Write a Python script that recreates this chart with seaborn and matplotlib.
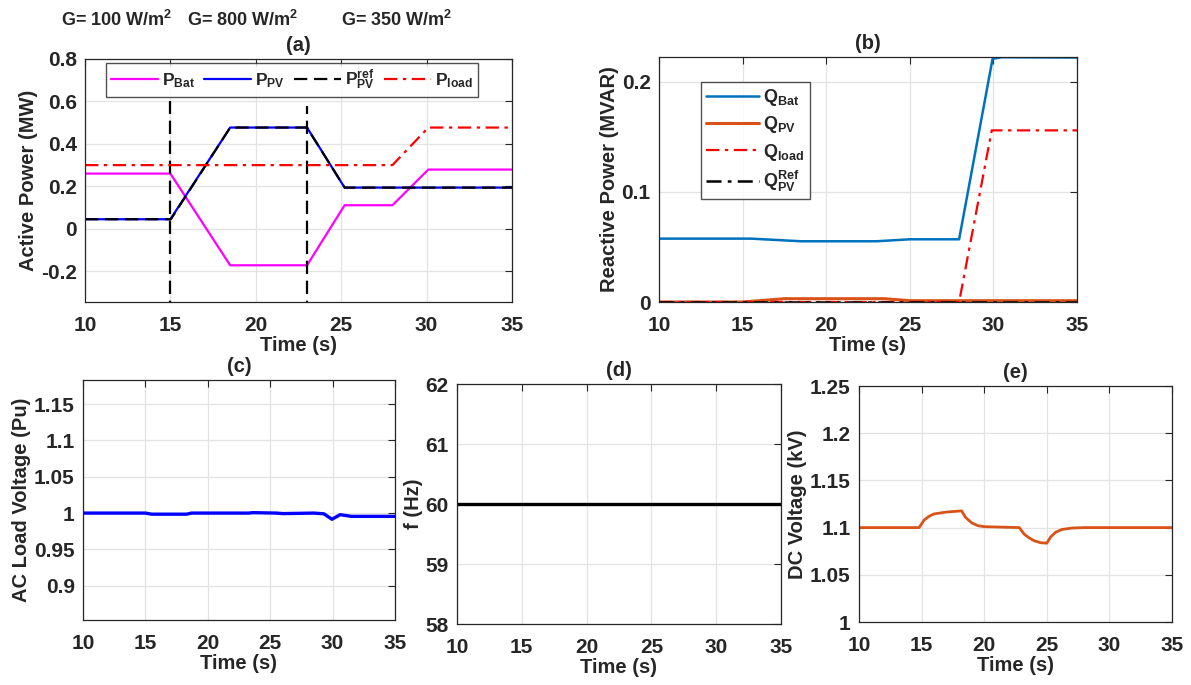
import numpy as np
import pandas as pd
import seaborn as sns
import matplotlib
matplotlib.use('Agg')
import matplotlib.pyplot as plt

# ---- data ----
# (a) active power
t_a = [10, 15, 18.5, 23, 25.2, 28, 30.1, 35]
p_bat = [0.26, 0.26, -0.172, -0.172, 0.111, 0.111, 0.279, 0.279]
p_pv = [0.045, 0.045, 0.477, 0.477, 0.194, 0.194, 0.194, 0.194]
p_load = [0.30, 0.30, 0.30, 0.30, 0.30, 0.30, 0.477, 0.477]
t_ref = [10, 15, 15.05, 18.5, 23, 23.05, 25.2, 35]
p_ref = [0.045, 0.045, 0.048, 0.477, 0.477, 0.47, 0.194, 0.194]
ref_steps = [15, 23]
ref_spike_top = [0.60, 0.58]
ref_spike_bottom = [-0.4, -0.4]

# (b) reactive power
t_b = [10, 15.5, 18.5, 23, 25, 27.95, 29.95, 30.5, 35]
q_bat = [0.0576, 0.0576, 0.0552, 0.0552, 0.057, 0.057, 0.221, 0.2225, 0.2222]
t_qpv = [10, 15, 17.5, 23.5, 25, 35]
q_pv = [0.0, 0.0, 0.003, 0.003, 0.0012, 0.0012]
t_qload = [10, 27.95, 29.9, 35]
q_load = [0.0, 0.0, 0.156, 0.156]
t_qref = [10, 35]
q_ref = [0.0, 0.0]

# (c) AC load voltage
t_c = [10, 15, 15.5, 18.3, 18.7, 23.3, 23.6, 25.5, 26, 28.5, 29.3, 29.95, 30.6, 31.5, 35]
v_ac = [1.0, 1.0, 0.9985, 0.9985, 1.0, 1.0, 1.0006, 1.0, 0.9993, 1.0, 0.999, 0.9915, 0.9978, 0.9955, 0.9955]

# (d) frequency
t_d = [10, 35]
freq = [60.0, 60.0]

# (e) DC voltage
t_e = [10, 14.8, 15.2, 15.6, 16, 17, 18.2, 18.5, 19, 19.5, 20, 22.8, 23.2, 23.6, 24,
       24.5, 25, 25.3, 25.7, 26.2, 27, 28, 35]
v_dc = [1.1, 1.1, 1.108, 1.112, 1.1145, 1.1165, 1.1177, 1.111, 1.105, 1.102, 1.101, 1.1,
        1.093, 1.089, 1.086, 1.084, 1.0835, 1.09, 1.095, 1.098, 1.0995, 1.1, 1.1]

irr_labels = ['G= 100 W/m$^2$', 'G= 800 W/m$^2$', 'G= 350 W/m$^2$']

# ---- style ----
sns.set_style('white')
plt.rcParams['font.family'] = ['Liberation Sans', 'DejaVu Sans']
plt.rcParams['font.weight'] = 'bold'
plt.rcParams['axes.labelweight'] = 'bold'
plt.rcParams['axes.titleweight'] = 'bold'
plt.rcParams['mathtext.fontset'] = 'custom'
plt.rcParams['mathtext.rm'] = 'Liberation Sans:bold'
plt.rcParams['mathtext.bf'] = 'Liberation Sans:bold'
plt.rcParams['mathtext.it'] = 'Liberation Sans:bold'
plt.rcParams['mathtext.default'] = 'bf'

W, H = 1191, 685
FS = 15
fig = plt.figure(figsize=(W / 100, H / 100), dpi=100)


def px_axes(x0, y0, x1, y1):
    return fig.add_axes([x0 / W, 1 - y1 / H, (x1 - x0) / W, (y1 - y0) / H])


def matlab_look(ax, yticks, ylim, ylabel, title):
    ax.set_xlim(10, 35)
    ax.set_xticks([10, 15, 20, 25, 30, 35])
    ax.set_ylim(*ylim)
    ax.set_yticks(yticks)
    ax.grid(True, color='#e3e3e3', lw=0.9)
    ax.set_axisbelow(True)
    for s in ax.spines.values():
        s.set_color('#262626')
        s.set_linewidth(0.9)
    ax.tick_params(direction='in', top=True, right=True, length=5, width=0.8,
                   labelsize=FS, colors='#262626', labelcolor='#262626')
    ax.tick_params(axis='x', pad=10)
    ax.tick_params(axis='y', pad=6)
    ax.set_xlabel('Time (s)', fontsize=FS - 0.5, labelpad=1, color='#262626')
    ax.set_ylabel(ylabel, fontsize=FS - 0.5, labelpad=2, color='#262626')
    ax.set_title(title, fontsize=FS - 0.5, pad=6)


def line(ax, x, y, **kw):
    df = pd.DataFrame({'t': x, 'v': y})
    sns.lineplot(data=df, x='t', y='v', ax=ax, estimator=None, sort=False, **kw)


# (a)
ax = px_axes(85, 59, 512, 302)
line(ax, t_a, p_bat, color='#ff00ff', lw=1.6, label='P$_{Bat}$')
line(ax, t_a, p_pv, color='#0000ff', lw=1.6, label='P$_{PV}$')
line(ax, t_ref, p_ref, color='black', lw=1.6, ls=(0, (6, 3)), label='P$_{PV}^{ref}$')
ax.vlines(ref_steps, ref_spike_bottom, ref_spike_top, color='black', lw=1.6,
          linestyles=[(0, (6, 3))])
line(ax, t_a, p_load, color='#ff0000', lw=1.6, ls=(0, (6, 2.5, 1.5, 2.5)), label='P$_{load}$')
matlab_look(ax, [-0.2, 0, 0.2, 0.4, 0.6, 0.8], (-0.345, 0.8), 'Active Power (MW)', '(a)')
ax.set_yticklabels(['-0.2', '0', '0.2', '0.4', '0.6', '0.8'])
ax.legend(ncol=4, loc='upper left', bbox_to_anchor=(0.05, 0.985), fontsize=12.5,
          frameon=True, fancybox=False, edgecolor='#262626', handlelength=2.7,
          columnspacing=0.5, handletextpad=0.25, borderpad=0.28, borderaxespad=0)

# (b)
ax = px_axes(659, 57, 1077, 302)
line(ax, t_b, q_bat, color='#0072bd', lw=1.8, label='Q$_{Bat}$')
line(ax, t_qpv, q_pv, color='#d95319', lw=2.2, label='Q$_{PV}$')
line(ax, t_qload, q_load, color='#ff0000', lw=1.6, ls=(0, (6, 2.5, 1.5, 2.5)), label='Q$_{load}$')
line(ax, t_qref, q_ref, color='black', lw=1.8, ls=(0, (6, 2.5, 1.5, 2.5)), label='Q$_{PV}^{Ref}$')
matlab_look(ax, [0, 0.1, 0.2], (0, 0.2227), 'Reactive Power (MVAR)', '(b)')
ax.set_yticklabels(['0', '0.1', '0.2'])
ax.legend(loc='upper left', bbox_to_anchor=(0.1, 0.9), fontsize=13, frameon=True,
          fancybox=False, edgecolor='#262626', handlelength=2.9, handletextpad=0.25,
          labelspacing=0.35, borderpad=0.3, borderaxespad=0)

# (c)
ax = px_axes(83, 380, 395, 620)
line(ax, t_c, v_ac, color='#0000ff', lw=2.4)
matlab_look(ax, [0.9, 0.95, 1.0, 1.05, 1.1, 1.15], (0.853, 1.183), 'AC Load Voltage (Pu)', '(c)')
ax.set_yticklabels(['0.9', '0.95', '1', '1.05', '1.1', '1.15'])

# (d)
ax = px_axes(457, 384, 781, 624)
line(ax, t_d, freq, color='black', lw=2.4)
matlab_look(ax, [58, 59, 60, 61, 62], (58, 62), 'f (Hz)', '(d)')

# (e)
ax = px_axes(859, 386, 1172, 622)
line(ax, t_e, v_dc, color='#d95319', lw=2.0)
matlab_look(ax, [1, 1.05, 1.1, 1.15, 1.2, 1.25], (1, 1.25), 'DC Voltage (kV)', '(e)')
ax.set_yticklabels(['1', '1.05', '1.1', '1.15', '1.2', '1.25'])

# irradiance annotations
for xp, lab in zip([117, 243, 397], irr_labels):
    fig.text(xp / W, 1 - 20 / H, lab, ha='center', va='center', fontsize=13,
             color='#262626')

fig.savefig('out.png', dpi=100)
